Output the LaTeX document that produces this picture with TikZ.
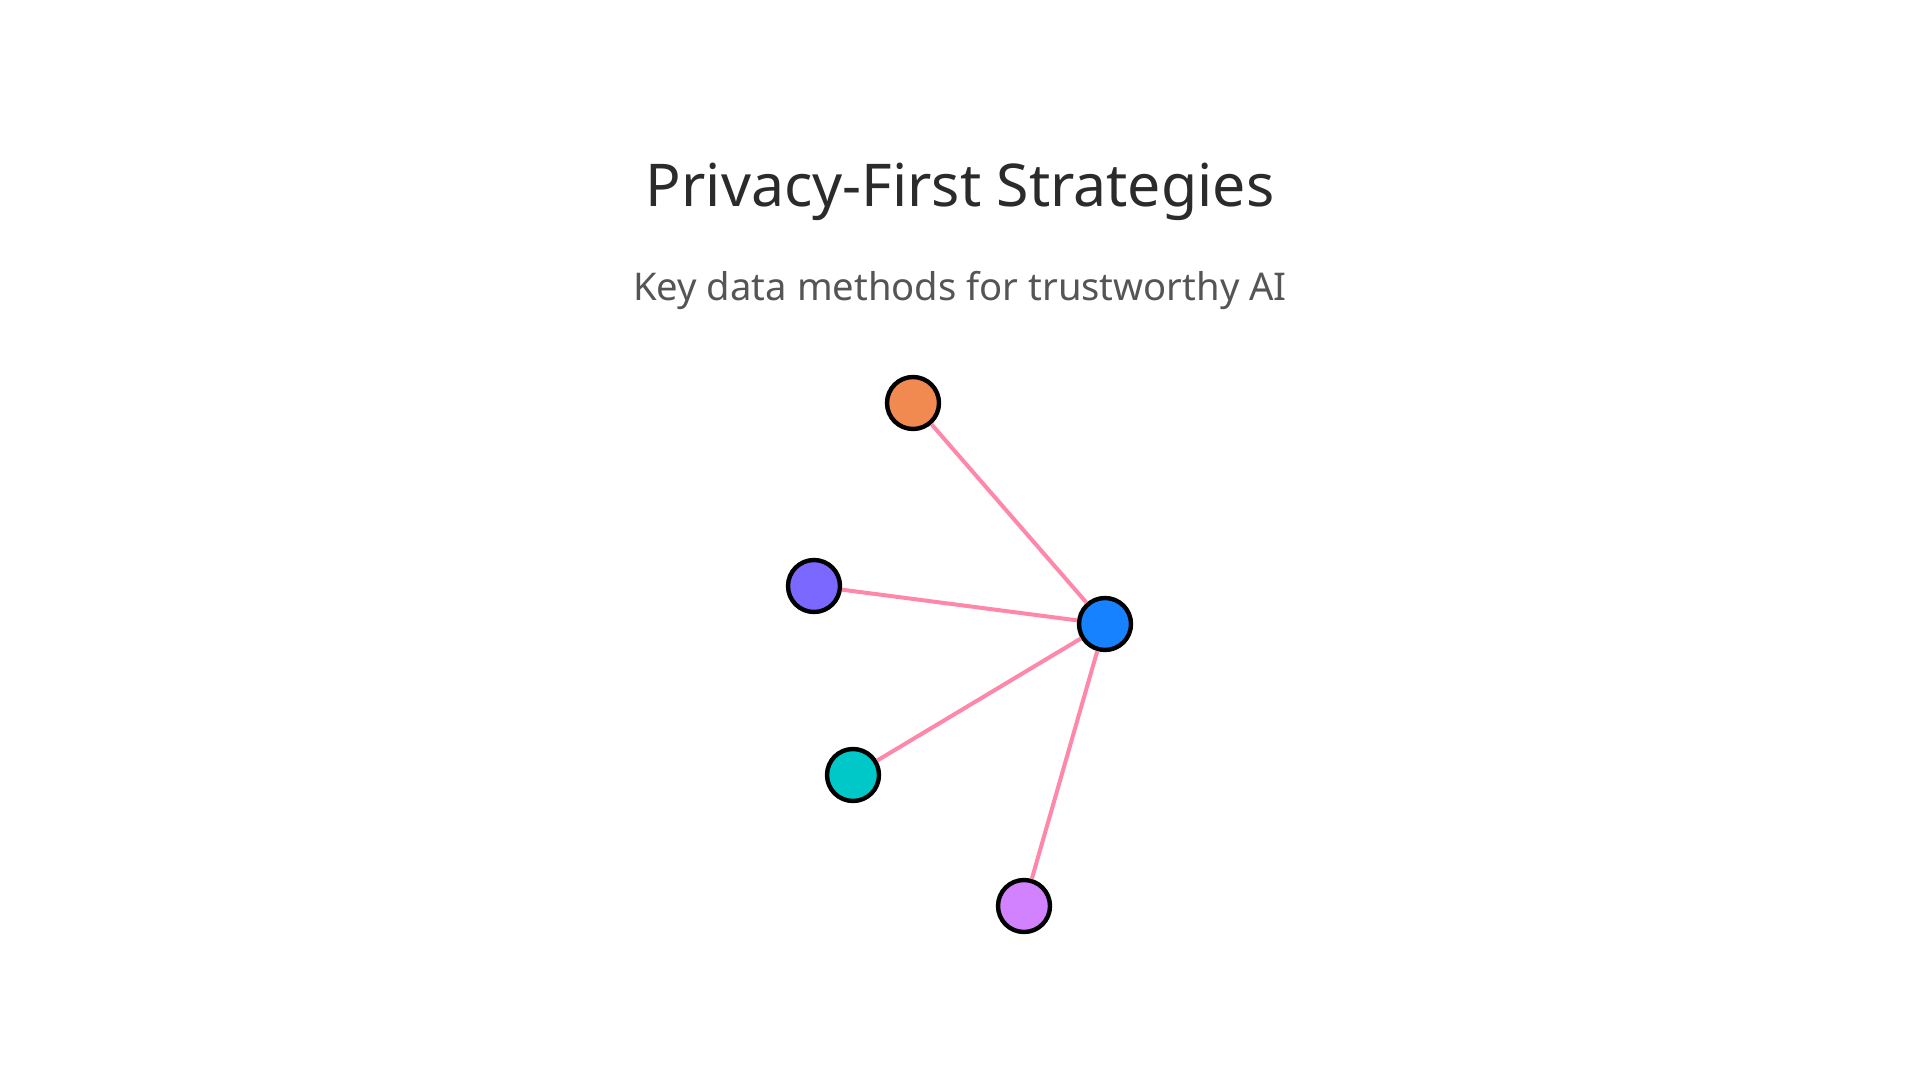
\documentclass[tikz,border=0pt]{standalone}
\usepackage{fontspec}
\setmainfont{Noto Sans}
\definecolor{titlecol}{HTML}{2B2B2B}
\definecolor{subcol}{HTML}{555555}
\definecolor{linkcol}{HTML}{FF88AA}
\definecolor{corange}{HTML}{F08A50}
\definecolor{cblue}{HTML}{1682FF}
\definecolor{cindigo}{HTML}{7B68FF}
\definecolor{cteal}{HTML}{00C8C8}
\definecolor{cviolet}{HTML}{D282FF}
\begin{document}
\begin{tikzpicture}[x=0.5pt,y=-0.5pt,
  dot/.style={circle,draw=black,line width=2.2pt,minimum size=26pt,inner sep=0pt},
  link/.style={draw=linkcol,line width=2pt},
  titletext/.style={text=titlecol,font=\fontsize{29.5}{34}\selectfont},
  subtext/.style={text=subcol,font=\fontsize{19.1}{23}\selectfont}]
\useasboundingbox (0,0) rectangle (1920,1080);
\fill[white] (0,0) rectangle (1920,1080);
\node[titletext] (title) at (960,192) {Privacy-First Strategies};
\node[subtext] (sub) at (960,290) {Key data methods for trustworthy AI};
\node[dot,fill=cblue] (hub) at (1105,624) {};
\node[dot,fill=corange] (n1) at (913,403) {};
\node[dot,fill=cindigo] (n2) at (814,586) {};
\node[dot,fill=cteal] (n3) at (853,775) {};
\node[dot,fill=cviolet] (n4) at (1024,906) {};
\draw[link] (n1) -- (hub);
\draw[link] (n2) -- (hub);
\draw[link] (n3) -- (hub);
\draw[link] (n4) -- (hub);
\end{tikzpicture}
\end{document}
